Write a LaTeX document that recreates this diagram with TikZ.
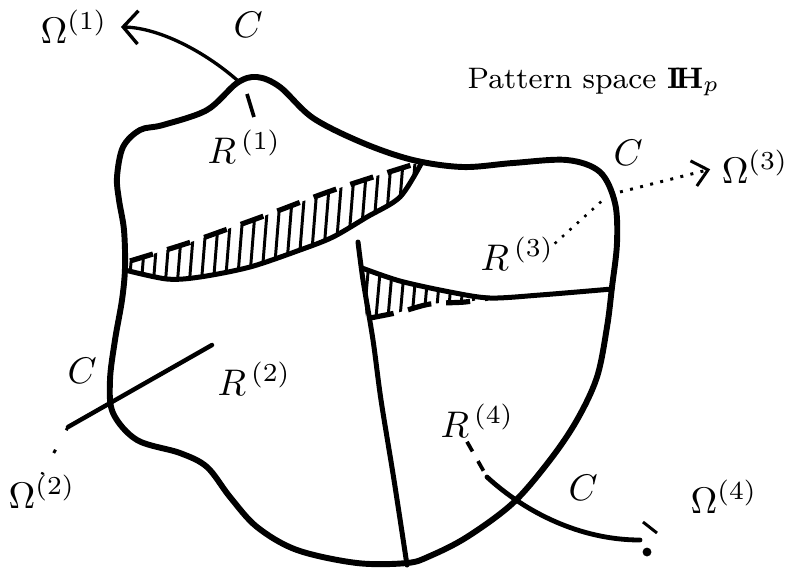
\documentclass[tikz,border=0pt]{standalone}
\usepackage{amsmath,amssymb}
\usetikzlibrary{arrows.meta}
\tikzset{
  contour/.style={line width=1.6pt, line join=round},
  cut/.style={line width=1.35pt, line cap=round},
  hatchline/.style={line width=0.8pt},
  hatchedge/.style={line width=1.4pt, dash pattern=on 6.5pt off 4pt},
  lbl/.style={inner sep=0pt, anchor=base west},
  omarrow/.style={line width=0.9pt, -{Straight Barb[length=4pt,width=9pt]}},
  dotarrow/.style={line width=0.8pt, dotted, -{Straight Barb[length=4pt,width=7pt]}}
}

\begin{document}
\begin{tikzpicture}[x=0.27pt, y=-0.27pt]
  \useasboundingbox (0,0) rectangle (787,570);
  % outer contour C
  \draw[contour] plot[smooth cycle, tension=0.55] coordinates {
    (257,77) (280,87) (313,118) (363,143) (413,160) (463,167) (513,163)
    (567,160) (600,172) (615,203) (617,243) (612,287) (607,327) (597,377)
    (577,420) (550,460) (513,503) (467,537) (430,556) (407,563) (357,563)
    (297,550) (257,527) (230,497) (207,467) (180,453) (137,440) (113,413)
    (110,380) (115,340) (122,300) (125,268) (124,230) (119,200) (117,177)
    (123,147) (140,130) (163,125) (207,110) (237,83)};
  % R(1) / R(2) border with hatched strip
  \begin{scope}
    \clip plot[smooth] coordinates {(125,270) (167,279) (200,277) (250,267) (300,250) (333,237) (367,217) (400,197) (422,162)}
      -- plot[smooth] coordinates {(420,162) (370,178) (325,193) (272,213) (225,230) (185,244) (127,262)} -- cycle;
    \foreach \x in {128,140,...,440}
      \draw[hatchline] (\x,150) -- ++(-12,150);
  \end{scope}
  \draw[cut] plot[smooth] coordinates {(125,270) (167,279) (200,277) (250,267) (300,250) (333,237) (367,217) (400,197) (422,162)};
  \draw[hatchedge] plot[smooth] coordinates {(130,261) (185,244) (225,230) (272,213) (325,193) (370,178) (418,163)};
  % R(3) / R(4) border with hatched strip
  \begin{scope}
    \clip plot[smooth] coordinates {(362,268) (400,281) (450,292) (490,298)}
      -- plot[smooth] coordinates {(490,298) (465,302) (430,304) (400,312) (366,320)} -- cycle;
    \foreach \x in {370,382,...,500}
      \draw[hatchline] (\x,250) -- ++(-8,90);
  \end{scope}
  \draw[cut] plot[smooth] coordinates {(362,268) (400,281) (450,292) (490,298) (540,295) (612,289)};
  \draw[hatchedge] plot[smooth] coordinates {(370,318) (400,312) (430,304) (465,302) (488,298)};
  % separator
  \draw[cut] plot[smooth] coordinates {(358,242) (363,280) (373,340) (381,400) (394,480) (407,565)};

  % labels
  \node[lbl] (c1) at (233,37) {$C$};
  \node[lbl] (c2) at (67,383) {$C$};
  \node[lbl] (c3) at (613,165) {$C$};
  \node[lbl] (c4) at (568,500) {$C$};
  \node[lbl] (r1) at (207,163) {$R^{\,(1)}$};
  \node[lbl] (r2) at (217,395) {$R^{\,(2)}$};
  \node[lbl] (r3) at (480,270) {$R^{\,(3)}$};
  \node[lbl] (r4) at (440,437) {$R^{\,(4)}$};
  \node[lbl] (om1) at (40,43) {$\Omega^{(1)}$};
  \node[lbl] (om2) at (8,508) {$\Omega^{(2)}$};
  \node[lbl] (om3) at (721,183) {$\Omega^{(3)}$};
  \node[lbl] (om4) at (690,513) {$\Omega^{(4)}$};
  \node[lbl] (hp) at (467,88) {\footnotesize Pattern space $\mathbf{I\!H}_{p}$};

  % mappings out of the pattern space
  \coordinate (pk) at (237,80);
  \draw[line width=1pt] (pk) ++(10,14) -- ++(7,23);
  \draw[omarrow, shorten >=3.5pt] (pk) .. controls (205,52) and (160,28) .. (om1.east);
  \coordinate (o2a) at (68,427);
  \coordinate (o2b) at (212,345);
  \draw[cut, line width=1.2pt] (o2a) -- (o2b);
  \draw[line width=0.8pt, dash pattern=on 1pt off 6pt] (o2a) -- (om2.north);
  \coordinate (cr3) at (604,199);
  \coordinate (cr3o) at (620,192);
  \draw[line width=0.7pt, dotted] (r3.east) ++(0,-10) -- (cr3);
  \draw[dotarrow, shorten >=3pt] (cr3o) -- (om3.west);
  \coordinate (r4in) at (487,477);
  \coordinate (r4out) at (640,540);
  \draw[line width=1pt, dashed] (r4.south west) ++(27,4) -- (r4in);
  \draw[cut, line width=1.3pt] (r4in) .. controls (525,512) and (580,540) .. (r4out);
  \draw[line width=0.8pt] (643,522) -- (657,533);
  \fill (647,552) circle (1.2pt);
\end{tikzpicture}
\end{document}
